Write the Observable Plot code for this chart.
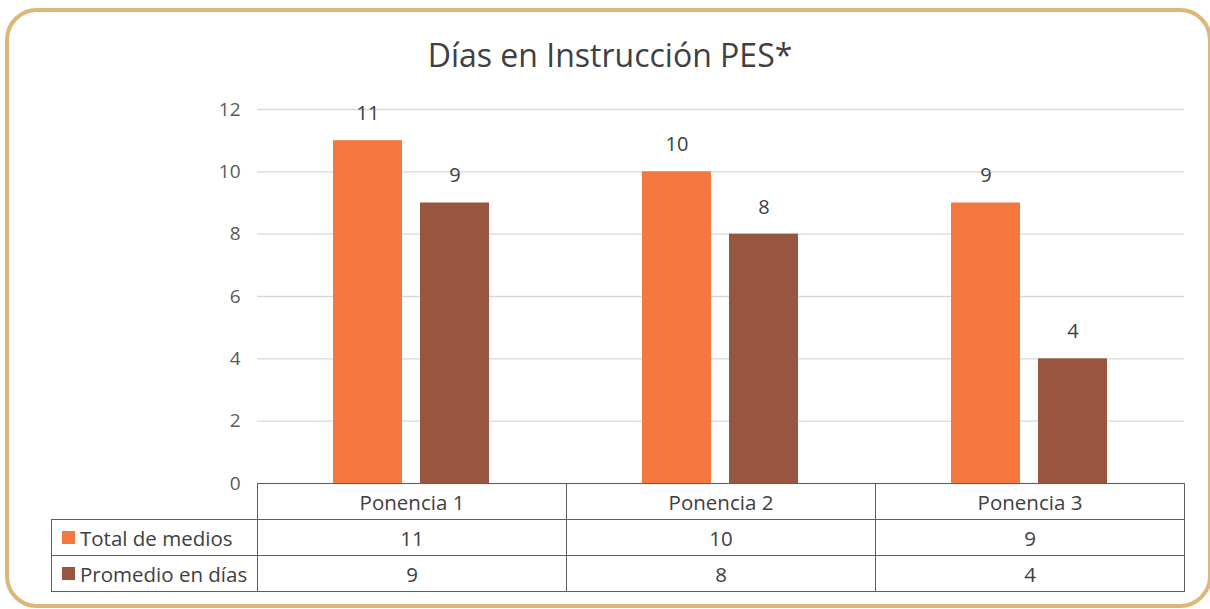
<!DOCTYPE html>
<html>
<head>
<meta charset="utf-8">
<script src="https://cdn.jsdelivr.net/npm/d3@7"></script>
<script src="https://cdn.jsdelivr.net/npm/@observablehq/plot@0.6"></script>
<style>
  html, body { margin: 0; padding: 0; background: #fff; }
  #wrap { position: relative; width: 1210px; height: 609px; overflow: hidden; font-family: "Open Sans", "Noto Sans", sans-serif; color: #404040; }
  #frame { position: absolute; left: 5px; top: 8px; width: 1207px; height: 600px; box-sizing: border-box; border: 4px solid #DCB878; border-radius: 32px; }
  #title { position: absolute; left: 0; top: 33px; width: 1220px; text-align: center; font-size: 32px; color: #404040; }
  #chart { position: absolute; left: 0; top: 80px; }
  .cell { position: absolute; box-sizing: border-box; font-size: 20.5px; color: #404040; display: flex; align-items: center; justify-content: center; white-space: nowrap; }
  .lab { justify-content: flex-start; padding-left: 10px; }
  .sw { display: inline-block; width: 13px; height: 13px; margin-right: 5px; }
</style>
</head>
<body>
<div id="wrap">
  <div id="frame"></div>
  <div id="title">Días en Instrucción PES*</div>
  <div id="chart"></div>
  <div id="table"></div>
</div>
<script>
const ponencias = ["Ponencia 1", "Ponencia 2", "Ponencia 3"];
const series = ["Total de medios", "Promedio en días"];
const totalMedios = [11, 10, 9];
const promedioDias = [9, 8, 4];
const seriesColors = ["#F4773F", "#985640"];
const yTicks = [0, 2, 4, 6, 8, 10, 12];

const values = [totalMedios, promedioDias];
const data = [];
ponencias.forEach((p, i) => series.forEach((s, j) => data.push({ponencia: p, serie: s, valor: values[j][i]})));

const W = 1210, mL = 257, mR = 26, mT = 29, mB = 10, H = 413, svgTop = 80;

const chart = Plot.plot({
  width: W, height: H,
  marginLeft: mL, marginRight: mR, marginTop: mT, marginBottom: mB,
  style: {fontFamily: '"Open Sans", "Noto Sans", sans-serif', fontSize: "19px", color: "#595959", background: "transparent", overflow: "visible"},
  fx: {domain: ponencias, padding: 0, axis: null},
  x: {domain: series, paddingInner: 0.2045, paddingOuter: 0.858, axis: null},
  y: {domain: [0, 12], label: null, axis: null},
  color: {domain: series, range: seriesColors},
  marks: [
    Plot.gridY(yTicks, {stroke: "#d9d9d9", strokeOpacity: 1, strokeWidth: 1.3}),
    Plot.axisY(yTicks, {tickSize: 0, tickPadding: 17, label: null, fontSize: 19, fill: "#595959"}),
    Plot.barY(data, {fx: "ponencia", x: "serie", y: "valor", fill: "serie"}),
    Plot.text(data, {fx: "ponencia", x: "serie", y: "valor", text: d => String(d.valor), dy: -27, fontSize: 20, fill: "#404040"})
  ]
});
document.getElementById("chart").appendChild(chart);

// data table below the chart, aligned with the facet columns
const table = document.getElementById("table");
const plotLeft = mL, plotRight = W - mR, tableTop = svgTop + H - mB, rowH = 36, labLeft = 51;
const colW = (plotRight - plotLeft) / ponencias.length;
const line = "1.3px solid #606060";
function cell(x, y, w, h, html, cls, borders) {
  const d = document.createElement("div");
  d.className = "cell" + (cls ? " " + cls : "");
  Object.assign(d.style, {left: x + "px", top: y + "px", width: w + "px", height: h + "px"});
  Object.assign(d.style, borders);
  d.innerHTML = html;
  table.appendChild(d);
}
ponencias.forEach((p, i) => {
  cell(plotLeft + i * colW, tableTop, colW + 1, rowH + 1, p, "", {border: line});
});
series.forEach((s, j) => {
  const y = tableTop + rowH * (j + 1);
  cell(labLeft, y, plotLeft - labLeft + 1, rowH + 1, `<span class="sw" style="background:${seriesColors[j]}"></span>${s}`, "lab", {border: line});
  ponencias.forEach((p, i) => {
    cell(plotLeft + i * colW, y, colW + 1, rowH + 1, String(values[j][i]), "", {border: line});
  });
});
</script>
</body>
</html>
